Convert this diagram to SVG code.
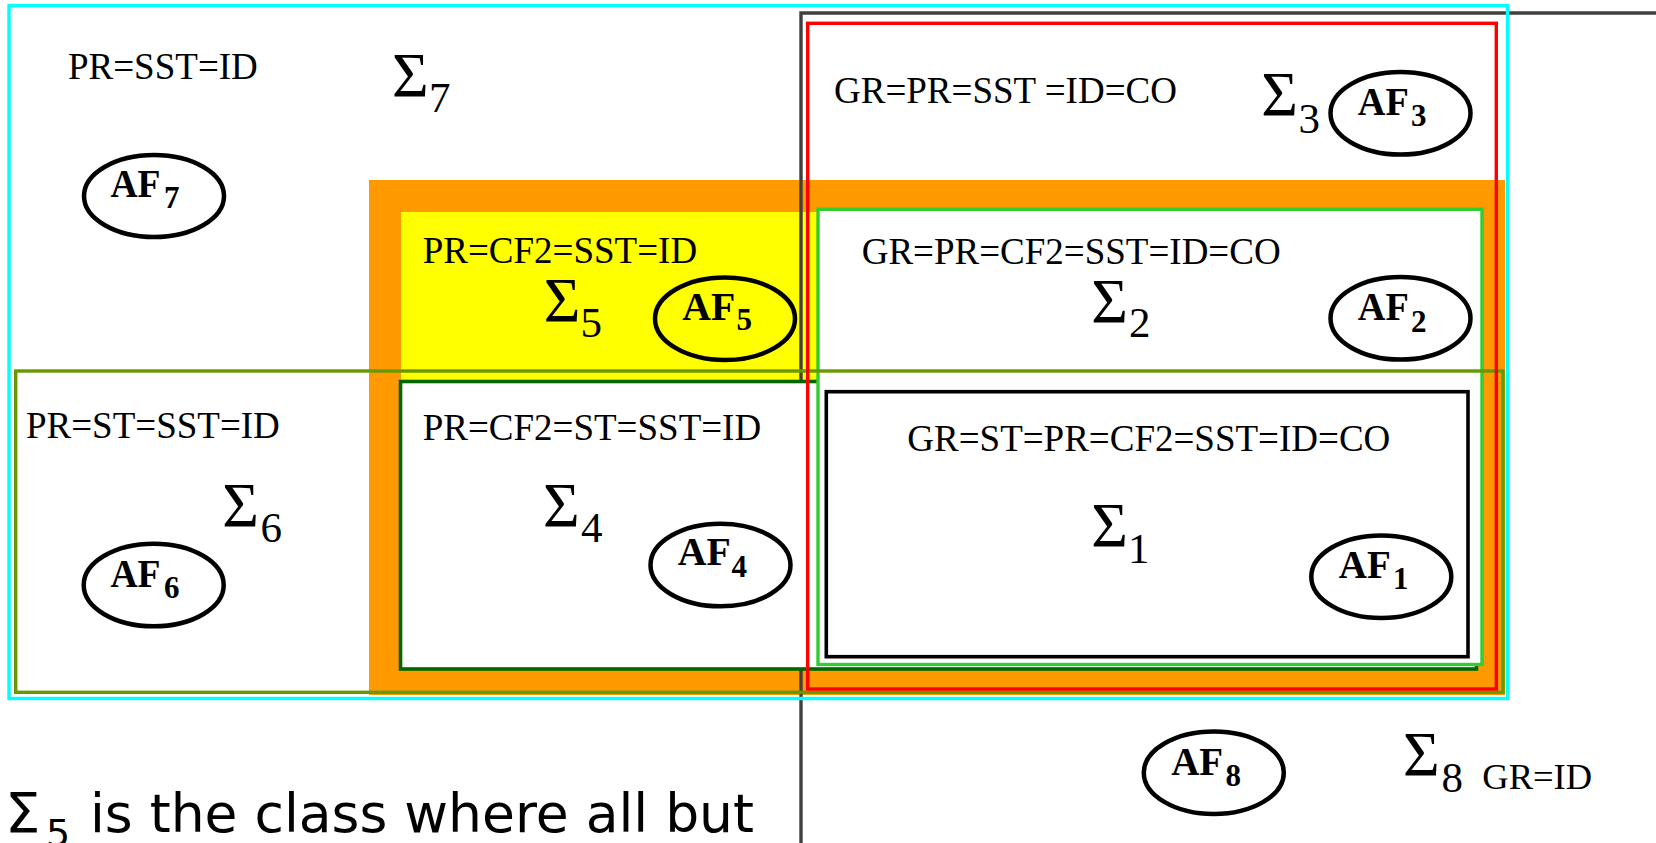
<svg xmlns="http://www.w3.org/2000/svg" width="1656" height="843" viewBox="0 0 1656 843">
<style>
.lbl{font-family:"Liberation Serif","Times New Roman",serif;font-size:37px;fill:#000}
.sig{font-family:"Liberation Serif","Times New Roman",serif;font-size:63px;fill:#000}
.sub{font-size:43px}
.af{font-family:"Liberation Serif","Times New Roman",serif;font-weight:bold;font-size:41px;fill:#000}
.afs{font-family:"Liberation Serif","Times New Roman",serif;font-weight:bold;font-size:31px;fill:#000}
.ell{fill:none;stroke:#000;stroke-width:4.5}
.frame{fill:none;stroke-width:3.4}
.note{font-family:"DejaVu Sans","Liberation Sans",sans-serif;fill:#000}
</style>
<rect width="1656" height="843" fill="#fff"/>
<g id="regions">
  <rect id="orange-band" x="369" y="180" width="1136" height="515" fill="#FF9900"/>
  <rect id="yellow-fill" x="401" y="212" width="418" height="170" fill="#FFFF00"/>
  <path id="gray-frame" d="M801 843 V13 H1656" fill="none" stroke="#404040" stroke-width="3.4"/>
  <rect id="darkgreen-frame" x="400.5" y="381.5" width="1076" height="287.5" fill="#fff" stroke="#006600" stroke-width="3.6"/>
  <rect id="lime-frame" x="818" y="209.3" width="664" height="455.2" fill="#fff" stroke="#33CC33" stroke-width="3.4"/>
  <rect id="black-frame" x="826.3" y="391.7" width="641.7" height="265" fill="none" stroke="#000" stroke-width="3.6"/>
  <rect id="olive-frame" class="frame" x="15.7" y="371" width="1487.3" height="321.3" stroke="#669900"/>
  <rect id="red-frame" class="frame" x="807.7" y="23.3" width="688.6" height="665.7" stroke="#FF0000"/>
  <rect id="cyan-frame" class="frame" x="9" y="5.7" width="1498.5" height="692.8" stroke="#00FFFF" stroke-width="3.6"/>
</g>
<g id="connectors"></g>
<g id="class7">
  <text class="lbl" x="68" y="79">PR=SST=ID</text>
  <text class="sig" x="392" y="97">Σ<tspan class="sub" x="429" y="112">7</tspan></text>
  <ellipse class="ell" cx="154" cy="196" rx="70" ry="41"/>
  <text class="af" x="110.5" y="197" textLength="50" lengthAdjust="spacingAndGlyphs">AF</text>
  <text class="afs" x="164" y="208">7</text>
</g>
<g id="class5">
  <text class="lbl" x="422.7" y="262.7">PR=CF2=SST=ID</text>
  <text class="sig" x="543.7" y="322.3">Σ<tspan class="sub" x="580.5" y="336.7">5</tspan></text>
  <ellipse class="ell" cx="725" cy="318.7" rx="70" ry="41.3"/>
  <text class="af" x="682.2" y="320" textLength="53" lengthAdjust="spacingAndGlyphs">AF</text>
  <text class="afs" x="736.5" y="330">5</text>
</g>
<g id="class3">
  <text class="lbl" x="834" y="103.3">GR=PR=SST =ID=CO</text>
  <text class="sig" x="1261.3" y="116">Σ<tspan class="sub" x="1298.5" y="133.3">3</tspan></text>
  <ellipse class="ell" cx="1400.5" cy="113.3" rx="70" ry="41.3"/>
  <text class="af" x="1357.8" y="115" textLength="51" lengthAdjust="spacingAndGlyphs">AF</text>
  <text class="afs" x="1411" y="126">3</text>
</g>
<g id="class2">
  <text class="lbl" x="861.7" y="264">GR=PR=CF2=SST=ID=CO</text>
  <text class="sig" x="1091.3" y="322.7">Σ<tspan class="sub" x="1129" y="336.7">2</tspan></text>
  <ellipse class="ell" cx="1400.5" cy="318.3" rx="70" ry="41.3"/>
  <text class="af" x="1357.8" y="320" textLength="51" lengthAdjust="spacingAndGlyphs">AF</text>
  <text class="afs" x="1411" y="331.7">2</text>
</g>
<g id="class6">
  <text class="lbl" x="26" y="438.3">PR=ST=SST=ID</text>
  <text class="sig" x="222.3" y="526.7">Σ<tspan class="sub" x="260.5" y="542.3">6</tspan></text>
  <ellipse class="ell" cx="153.7" cy="585" rx="70" ry="41.3"/>
  <text class="af" x="110.5" y="587.3" textLength="50" lengthAdjust="spacingAndGlyphs">AF</text>
  <text class="afs" x="164" y="598.3">6</text>
</g>
<g id="class4">
  <text class="lbl" x="422.7" y="440">PR=CF2=ST=SST=ID</text>
  <text class="sig" x="543" y="526.7">Σ<tspan class="sub" x="581" y="542.3">4</tspan></text>
  <ellipse class="ell" cx="720.5" cy="565" rx="70" ry="41.3"/>
  <text class="af" x="677.8" y="565" textLength="53" lengthAdjust="spacingAndGlyphs">AF</text>
  <text class="afs" x="731.5" y="576.7">4</text>
</g>
<g id="class1">
  <text class="lbl" x="907.3" y="450.7">GR=ST=PR=CF2=SST=ID=CO</text>
  <text class="sig" x="1091.3" y="547.3">Σ<tspan class="sub" x="1128" y="562.7">1</tspan></text>
  <ellipse class="ell" cx="1381.3" cy="576.7" rx="70" ry="41.3"/>
  <text class="af" x="1338.8" y="578.3" textLength="52" lengthAdjust="spacingAndGlyphs">AF</text>
  <text class="afs" x="1393" y="589.3">1</text>
</g>
<g id="class8">
  <ellipse class="ell" cx="1213.8" cy="772.7" rx="70" ry="41.3"/>
  <text class="af" x="1171.2" y="775" textLength="52" lengthAdjust="spacingAndGlyphs">AF</text>
  <text class="afs" x="1225.5" y="785.7">8</text>
  <text class="sig" x="1403" y="776">Σ<tspan class="sub" x="1441.5" y="791.7">8</tspan></text>
  <text class="lbl" x="1482.3" y="789.3" style="font-size:36.5px">GR=ID</text>
</g>
<g id="note">
  <text class="note" x="5" y="831.7" style="font-size:56px">Σ<tspan x="46" y="846" style="font-size:38px">5</tspan></text>
  <text class="note" x="90" y="831.7" style="font-size:53px" textLength="664" lengthAdjust="spacingAndGlyphs">is the class where all but</text>
</g>
</svg>
